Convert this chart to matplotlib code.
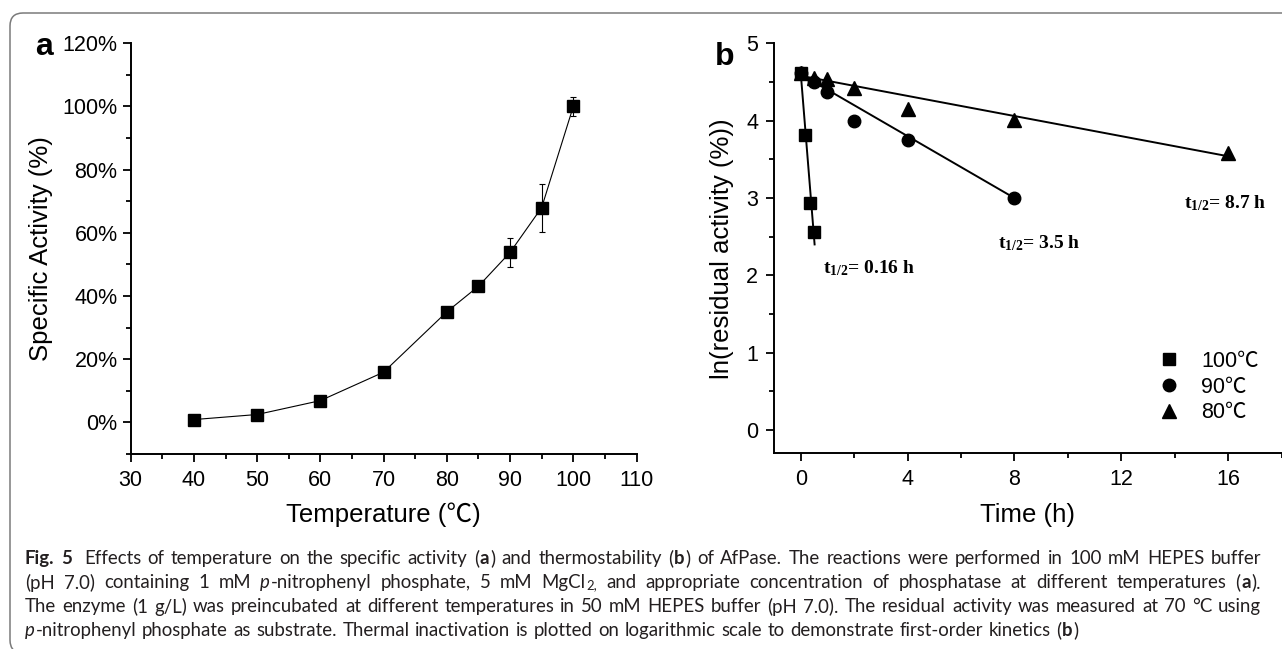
#!/usr/bin/env python3
"""
plot.py

Temperature profile (a) and thermal inactivation (b) of AfPase,
with the figure caption underneath.
"""
import re
import matplotlib
matplotlib.use('Agg')
import matplotlib.pyplot as plt
from matplotlib.ticker import MultipleLocator, FuncFormatter
from matplotlib.patches import FancyBboxPatch
from matplotlib.transforms import IdentityTransform

# panel a: specific activity vs temperature
temp_c = [40, 50, 60, 70, 80, 85, 90, 95, 100]
activity_pct = [0.9, 2.5, 6.9, 15.9, 35.0, 43.1, 53.8, 68.0, 100.0]
activity_err = [0.6, 0.5, 0.6, 0.8, 1.0, 1.0, 4.6, 7.6, 3.0]

# panel b: ln(residual activity) vs time
t_100 = [0, 0.17, 0.33, 0.5]
ln_100 = [4.61, 3.82, 2.93, 2.56]
t_90 = [0, 0.5, 1, 2, 4, 8]
ln_90 = [4.61, 4.50, 4.37, 3.99, 3.75, 3.00]
t_80 = [0, 0.5, 1, 2, 4, 8, 16]
ln_80 = [4.61, 4.55, 4.54, 4.42, 4.15, 4.01, 3.58]

# fitted lines as drawn in the figure (end points)
fit_100_t = [0, 0.52]
fit_100_y = [4.62, 2.40]
fit_90_t = [0, 8]
fit_90_y = [4.60, 3.00]
fit_80_t = [0, 16]
fit_80_y = [4.58, 3.54]

series_labels = ['100\u2103', '90\u2103', '80\u2103']
half_lives = ['0.16', '3.5', '8.7']
half_life_pos = [(0.85, 2.09), (7.4, 2.42), (14.35, 2.94)]

caption_lines = [
    [("Fig. 5", 'b'), ("  Effects of temperature on the specific activity (", 'n'), ("a", 'b'),
     (") and thermostability (", 'n'), ("b", 'b'),
     (") of AfPase. The reactions were performed in 100 mM HEPES buffer", 'n')],
    [("(pH 7.0) containing 1 mM ", 'n'), ("p", 'i'), ("-nitrophenyl phosphate, 5 mM MgCl", 'n'),
     ("2,", 'sub'), (" and appropriate concentration of phosphatase at different temperatures (", 'n'),
     ("a", 'b'), (").", 'n')],
    [("The enzyme (1 g/L) was preincubated at different temperatures in 50 mM HEPES buffer "
      "(pH 7.0). The residual activity was measured at 70 \u00b0C using", 'n')],
    [("p", 'i'), ("-nitrophenyl phosphate as substrate. Thermal inactivation is plotted on "
                  "logarithmic scale to demonstrate first-order kinetics (", 'n'), ("b", 'b'), (")", 'n')],
]

W, H = 1282, 649
SANS = ['Liberation Sans', 'Noto Sans CJK SC', 'DejaVu Sans']

plt.rcParams['font.family'] = SANS
plt.rcParams['mathtext.fontset'] = 'custom'
plt.rcParams['mathtext.rm'] = 'Liberation Serif:bold'
plt.rcParams['mathtext.bf'] = 'Liberation Serif:bold'
plt.rcParams['mathtext.it'] = 'Liberation Serif:bold'


def fx(x):
    return x / W


def fy(y):
    # image row -> figure fraction
    return 1 - y / H


def style_axis(ax):
    for side in ('top', 'right'):
        ax.spines[side].set_visible(False)
    for side in ('left', 'bottom'):
        ax.spines[side].set_linewidth(1.4)
    ax.tick_params(which='both', direction='out', width=1.3, colors='black')
    ax.tick_params(which='major', length=5.5, labelsize=15.5)
    ax.tick_params(which='minor', length=3.5)
    ax.tick_params(axis='y', pad=4)
    ax.tick_params(axis='x', pad=6)


def draw_caption(fig, left, right, rows, justify):
    renderer = fig.canvas.get_renderer()
    fam = ['Lato', 'Open Sans', 'DejaVu Sans']
    styles = {
        'n': dict(weight='normal', style='normal'),
        'b': dict(weight='bold', style='normal'),
        'i': dict(weight='normal', style='italic'),
        'sub': dict(weight='normal', style='normal'),
    }
    gap = 0.8

    def width(s, st, sz):
        t = fig.text(0, 0, s, fontsize=sz * (0.7 if st == 'sub' else 1), family=fam, **styles[st])
        w = t.get_window_extent(renderer).width
        t.remove()
        return w

    # split every run into words and single spaces
    lines_tok = []
    for runs in caption_lines:
        toks = []
        for text, st in runs:
            for piece in re.split(r'( )', text):
                if piece:
                    toks.append((piece, st))
        lines_tok.append(toks)

    def natural(toks, sz):
        sp = width('n n', 'n', sz) - width('nn', 'n', sz)
        total = 0
        for piece, st in toks:
            total += sp if piece == ' ' else width(piece, st, sz) + gap
        return total, sp

    # pick the size at which the widest line just fills the column
    size = 14.0
    target = (right - left) * 0.99
    for _ in range(6):
        widest = max(natural(tk, size)[0] for tk in lines_tok)
        size *= target / widest

    for row, toks, just in zip(rows, lines_tok, justify):
        nat, sp = natural(toks, size)
        nspace = sum(1 for p, _ in toks if p == ' ')
        extra = (right - left - nat) / nspace if (just and nspace) else 0
        x = left
        for piece, st in toks:
            if piece == ' ':
                x += sp + extra
                continue
            sz = size * (0.7 if st == 'sub' else 1)
            dy = -3.5 if st == 'sub' else 0
            fig.text(x, H - row + dy, piece, fontsize=sz, family=fam, va='center_baseline',
                     ha='left', transform=IdentityTransform(), color='#231f20', **styles[st])
            x += width(piece, st, size) + gap


def main():
    fig = plt.figure(figsize=(W / 100, H / 100), dpi=100)

    # rounded frame around the figure
    frame = FancyBboxPatch((10, -4), 1320, 640, boxstyle='round,pad=0,rounding_size=13',
                           transform=IdentityTransform(), facecolor='none',
                           edgecolor='#7a7a7a', linewidth=1.1)
    fig.add_artist(frame)

    # ---- panel a ----
    ax1 = fig.add_axes([fx(130.7), fy(454), (636.5 - 130.7) / W, (454 - 43.3) / H])
    style_axis(ax1)
    ax1.errorbar(temp_c, activity_pct, yerr=activity_err, color='black', lw=0.8,
                 marker='s', markersize=8.5, elinewidth=0.8, capsize=2.5, capthick=0.8)
    ax1.set_xlim(30, 110)
    ax1.set_ylim(-10, 120)
    ax1.xaxis.set_major_locator(MultipleLocator(10))
    ax1.xaxis.set_minor_locator(MultipleLocator(5))
    ax1.yaxis.set_major_locator(MultipleLocator(20))
    ax1.yaxis.set_minor_locator(MultipleLocator(10))
    ax1.yaxis.set_major_formatter(FuncFormatter(lambda v, p: f'{v:.0f}%'))
    ax1.set_xlabel('Temperature (\u2103)', fontsize=18.5)
    ax1.set_ylabel('Specific Activity (%)', fontsize=18.5)
    ax1.xaxis.set_label_coords(0.5, -(515 - 454) / (454 - 43.3))
    ax1.yaxis.set_label_coords(-(130.7 - 41) / (636.5 - 130.7), 0.5)
    ax1.xaxis.label.set_verticalalignment('center')
    ax1.yaxis.label.set_verticalalignment('center')
    fig.text(fx(35), fy(55), 'a', fontsize=23, weight='bold', ha='left', va='baseline')

    # ---- panel b ----
    ax2 = fig.add_axes([fx(774), fy(453.3), (1281.5 - 774) / W, (453.3 - 43.3) / H])
    style_axis(ax2)
    ax2.plot(fit_100_t, fit_100_y, color='black', lw=1.4)
    ax2.plot(fit_90_t, fit_90_y, color='black', lw=1.4)
    ax2.plot(fit_80_t, fit_80_y, color='black', lw=1.4)
    ax2.plot(t_80, ln_80, linestyle='none', marker='^', markersize=10, color='black',
             label=series_labels[2])
    ax2.plot(t_90, ln_90, linestyle='none', marker='o', markersize=9, color='black',
             label=series_labels[1])
    ax2.plot(t_100, ln_100, linestyle='none', marker='s', markersize=8.5, color='black',
             label=series_labels[0])
    ax2.set_xlim(-1, 18)
    ax2.set_ylim(-0.3, 5)
    ax2.xaxis.set_major_locator(MultipleLocator(4))
    ax2.xaxis.set_minor_locator(MultipleLocator(2))
    ax2.yaxis.set_major_locator(MultipleLocator(1))
    ax2.yaxis.set_minor_locator(MultipleLocator(0.5))
    ax2.tick_params(axis='y', pad=6)
    ax2.set_xlabel('Time (h)', fontsize=18.5)
    ax2.set_ylabel('ln(residual activity (%))', fontsize=18.5)
    ax2.xaxis.set_label_coords(0.5, -(515 - 453.3) / (453.3 - 43.3))
    ax2.yaxis.set_label_coords(-(774 - 722) / (1281.5 - 774), 0.5)
    ax2.xaxis.label.set_verticalalignment('center')
    ax2.yaxis.label.set_verticalalignment('center')
    fig.text(fx(715), fy(65), 'b', fontsize=23, weight='bold', ha='left', va='baseline')

    handles, labels = ax2.get_legend_handles_labels()
    order = [2, 1, 0]
    ax2.legend([handles[i] for i in order], [labels[i] for i in order],
               loc='upper left', bbox_to_anchor=((1158 - 774) / 507.5, (453.3 - 351) / 410),
               frameon=False, fontsize=15.5, handlelength=1.0, handletextpad=1.0,
               labelspacing=0.22, borderpad=0, borderaxespad=0)

    for hl, (tx, ty) in zip(half_lives, half_life_pos):
        ax2.text(tx, ty, r'$\mathbf{t}_{\mathbf{1/2}}$' + f'= {hl} h', fontsize=14,
                 family='Liberation Serif', weight='bold', ha='left', va='center')

    # ---- caption ----
    draw_caption(fig, 25, 1262, [557, 581, 605, 629], [True, True, True, False])

    fig.savefig('out.png', dpi=100)
    print('Wrote out.png')


if __name__ == '__main__':
    main()
